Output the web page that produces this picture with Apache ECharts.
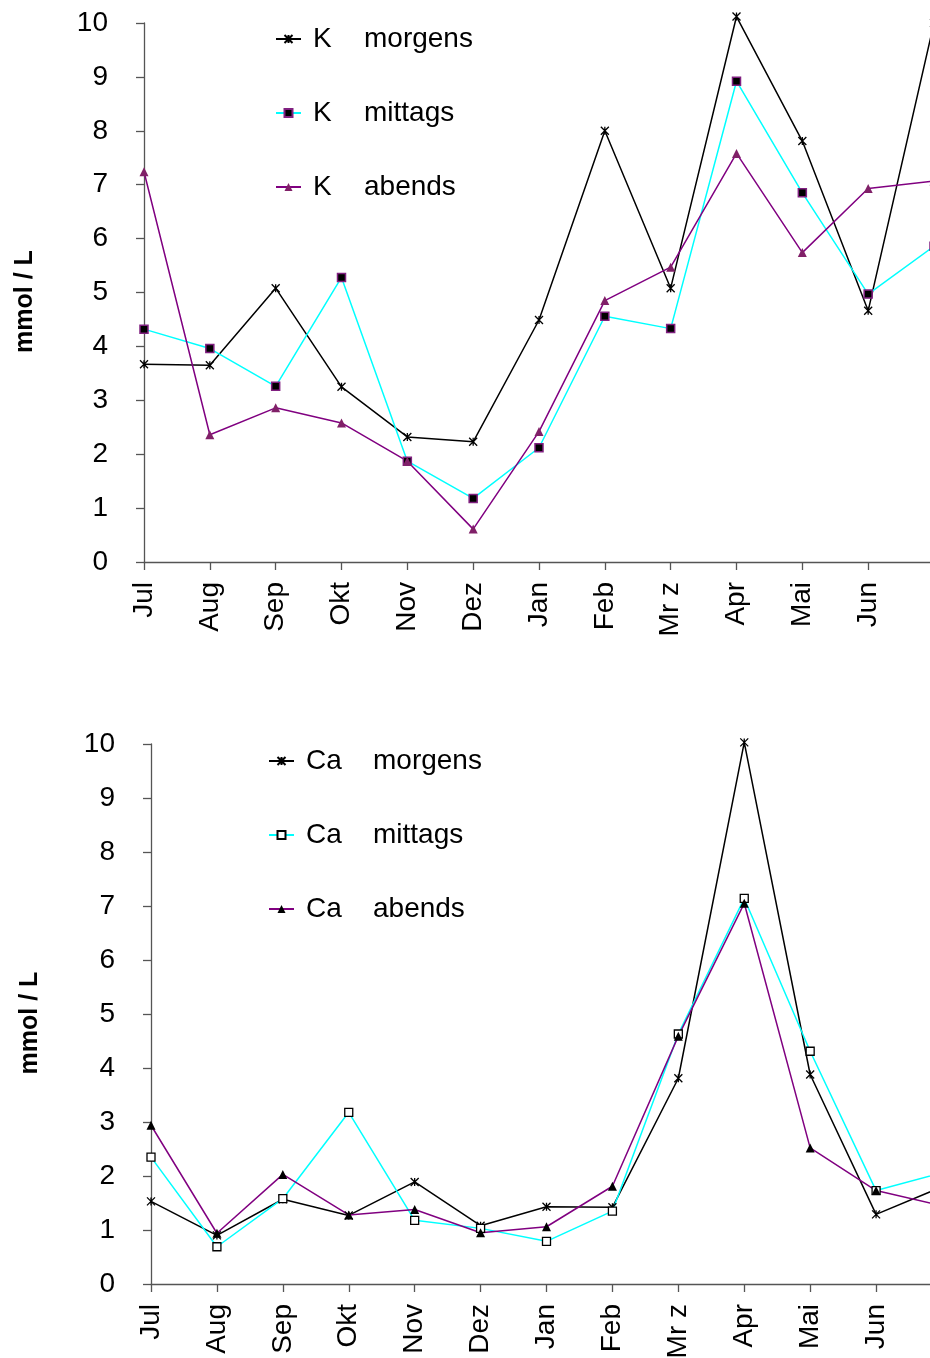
<!DOCTYPE html>
<html>
<head>
<meta charset="utf-8">
<script src="https://cdn.jsdelivr.net/npm/echarts@6/dist/echarts.min.js"></script>
<style>
html,body{margin:0;padding:0;background:#fff;overflow:hidden;}
#c{width:930px;height:1358px;}
</style>
</head>
<body>
<div id="c"></div>
<script>
// categories (13th point continues past the right edge, unlabeled)
const months = ['Jul','Aug','Sep','Okt','Nov','Dez','Jan','Feb','Mr z','Apr','Mai','Jun',''];
const yTicks = [0,1,2,3,4,5,6,7,8,9,10];

// Potassium (K), mmol/L
const kMorgens = [3.67,3.65,5.08,3.25,2.32,2.23,4.49,8.00,5.08,10.12,7.81,4.66,10.0];
const kMittags = [4.32,3.96,3.26,5.28,1.87,1.18,2.12,4.56,4.33,8.92,6.85,4.97,5.86];
const kAbends  = [7.24,2.36,2.86,2.58,1.87,0.61,2.42,4.85,5.47,7.58,5.74,6.93,7.07];

// Calcium (Ca), mmol/L
const caMorgens = [1.53,0.90,1.57,1.27,1.89,1.08,1.43,1.42,3.81,10.03,3.88,1.29,1.80];
const caMittags = [2.35,0.69,1.58,3.18,1.18,1.03,0.79,1.35,4.63,7.14,4.31,1.73,2.06];
const caAbends  = [2.94,0.94,2.03,1.28,1.38,0.95,1.06,1.81,4.59,7.05,2.52,1.73,1.45];

const FONT = 'Liberation Sans, Arial, sans-serif';
const AXIS_COLOR = '#555';
const STAR = 'path://M0,0L10,10M10,0L0,10M5,0L5,10';

function xAxis(gi){
  return {
    type:'category', gridIndex:gi, data:months, boundaryGap:false,
    axisLine:{lineStyle:{color:AXIS_COLOR,width:1.3}},
    axisTick:{show:true,length:8,alignWithLabel:true,lineStyle:{color:AXIS_COLOR,width:1.3}},
    axisLabel:{rotate:90,fontSize:28,color:'#000',fontFamily:FONT,margin:20,interval:0},
    splitLine:{show:false}
  };
}
function yAxis(gi,gap){
  return {
    type:'value', gridIndex:gi, min:0, max:10, interval:1,
    name:'mmol / L', nameLocation:'middle', nameRotate:90, nameGap:gap,
    nameTextStyle:{fontSize:25,fontWeight:'bold',color:'#000',fontFamily:FONT,padding:[0,18,0,0]},
    axisLine:{show:true,lineStyle:{color:AXIS_COLOR,width:1.3}},
    axisTick:{show:true,length:8,inside:false,lineStyle:{color:AXIS_COLOR,width:1.3}},
    axisLabel:{fontSize:28,color:'#000',fontFamily:FONT,margin:36,
      formatter:v=>yTicks.includes(v)?String(v):''},
    splitLine:{show:false}
  };
}
function series(name,data,gi,lineColor,symbol,size,fill,border,bw){
  return {
    name:name, type:'line', xAxisIndex:gi, yAxisIndex:gi, data:data,
    symbol:symbol, symbolSize:size, showSymbol:true, clip:false,
    lineStyle:{color:lineColor,width:1.5},
    itemStyle:{color:fill,borderColor:border,borderWidth:bw},
    emphasis:{disabled:true}, animation:false
  };
}
function legend(names,left,top,firstW,pad){
  return {
    data:names, orient:'vertical', left:left, top:top, itemGap:44,
    itemWidth:25, itemHeight:10,
    formatter:n=>{const p=n.split(' ');return '{a|'+p[0]+'}{b|'+p[1]+'}';},
    textStyle:{fontSize:28,lineHeight:30,color:'#000',fontFamily:FONT,
      rich:{a:{fontSize:28,lineHeight:30,fontFamily:FONT,color:'#000',width:firstW,padding:[0,0,0,pad]},
            b:{fontSize:28,lineHeight:30,fontFamily:FONT,color:'#000'}}},
    selectedMode:false
  };
}

const chart = echarts.init(document.getElementById('c'),null,{renderer:'canvas'});
chart.setOption({
  backgroundColor:'#fff',
  animation:false,
  grid:[
    {left:144, top:23, height:539, width:790, containLabel:false, outerBoundsMode:'none'},
    {left:151, top:744, height:540, width:791, containLabel:false, outerBoundsMode:'none'}
  ],
  xAxis:[xAxis(0),xAxis(1)],
  yAxis:[yAxis(0,106),yAxis(1,108)],
  legend:[
    legend(['K morgens','K mittags','K abends'],270,19,51,7),
    legend(['Ca morgens','Ca mittags','Ca abends'],263,741,67,7)
  ],
  series:[
    series('K morgens',kMorgens,0,'#000',STAR,8,'#000','#000',1.3),
    series('K mittags',kMittags,0,'#00FFFF','rect',8,'#000','#802080',1.5),
    series('K abends',kAbends,0,'#800080','triangle',9,'#802068','#802068',0),
    series('Ca morgens',caMorgens,1,'#000',STAR,8,'#000','#000',1.3),
    series('Ca mittags',caMittags,1,'#00FFFF','rect',8,'#fff','#000',1.3),
    series('Ca abends',caAbends,1,'#800080','triangle',9,'#000','#000',0)
  ]
});
</script>
</body>
</html>
